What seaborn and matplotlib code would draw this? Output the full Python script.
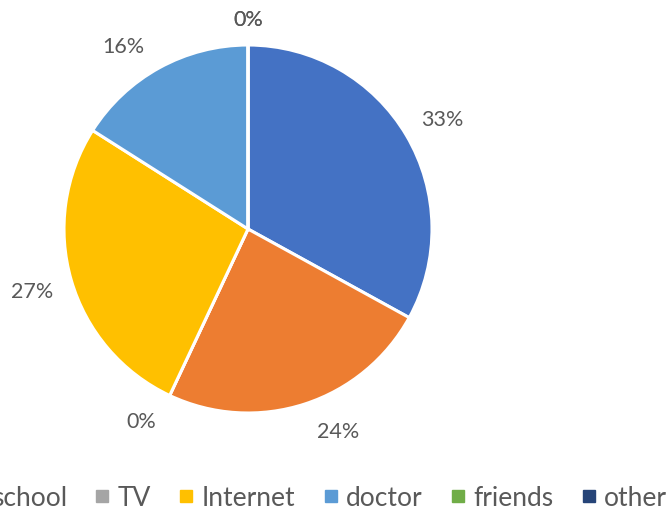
import matplotlib
matplotlib.use("Agg")
import matplotlib.pyplot as plt
from matplotlib.lines import Line2D
import numpy as np
import seaborn as sns

# Where people get their health information
sources = ["parents", "school", "TV", "Internet", "doctor", "friends", "other"]
shares = [33, 24, 0, 27, 16, 0, 0]
colors_hex = ["#4472C4", "#ED7D31", "#A5A5A5", "#FFC000", "#5B9BD5", "#70AD47", "#264478"]
# best-fit placement of the percentage labels (radial factor, angular nudge in degrees)
label_radius = [1.21, 1.21, 1.2, 1.22, 1.2, 1.135, 1.135]
label_nudge = [-1.4, 6.0, -3.7, 0.0, 5.5, 0.0, 0.0]

sns.set_theme(style="white")
plt.rcParams["font.family"] = ["Lato", "DejaVu Sans"]
palette = sns.color_palette(colors_hex)
text_color = "#595959"

fig = plt.figure(figsize=(6.72, 5.16), dpi=100)
# square plotting area for the pie (radius ~184 px, centre ~ (248, 229) px)
ax = fig.add_axes([64 / 672, (516 - 229 - 184) / 516, 368 / 672, 368 / 516])

wedges, _ = ax.pie(
    shares,
    colors=palette,
    startangle=90,
    counterclock=False,
    wedgeprops=dict(edgecolor="white", linewidth=2.2),
)
ax.set_xlim(-1, 1)
ax.set_ylim(-1, 1)
ax.set_aspect("equal")
ax.axis("off")

total = sum(shares)
for w, v, r, d in zip(wedges, shares, label_radius, label_nudge):
    mid = np.deg2rad((w.theta1 + w.theta2) / 2 + d)
    ax.text(r * np.cos(mid), r * np.sin(mid), f"{v / total * 100:.0f}%",
            ha="center", va="center", fontsize=15.5, color=text_color,
            clip_on=False)

handles = [Line2D([0], [0], marker="s", linestyle="none", markersize=8.5,
                  markerfacecolor=c, markeredgecolor=c) for c in palette]
fig.legend(handles, sources, loc="center right",
           bbox_to_anchor=(667 / 672, 1 - 498 / 516),
           ncol=len(sources), frameon=False, fontsize=19,
           handlelength=0.45, handletextpad=0.35, columnspacing=1.12,
           borderpad=0, borderaxespad=0, labelcolor=text_color)

fig.savefig("out.png", dpi=100)
